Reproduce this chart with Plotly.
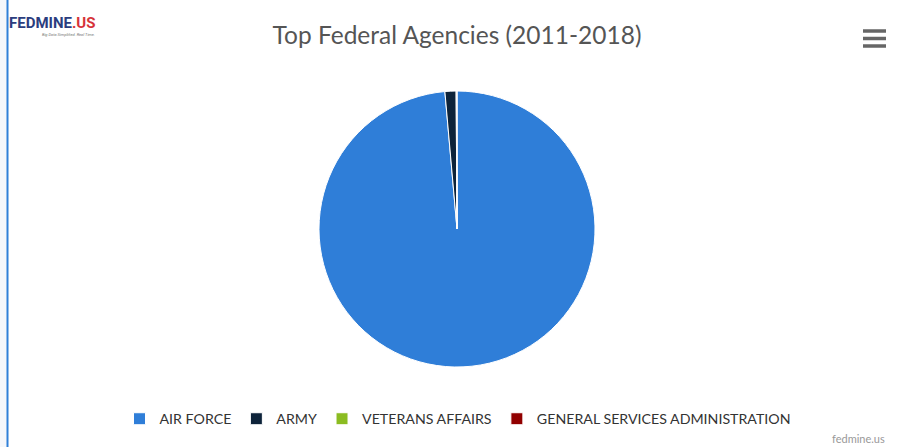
import plotly.graph_objects as go

W, H = 904, 447

agencies = ["AIR FORCE", "ARMY", "VETERANS AFFAIRS", "GENERAL SERVICES ADMINISTRATION"]
obligations = [98.6, 1.3, 0.06, 0.04]
colors = ["#2f7ed8", "#0d233a", "#8bbc21", "#910000"]

title_text = "Top Federal Agencies (2011-2018)"
credit_text = "fedmine.us"

def px(x):
    return x / W

def py(y):
    return 1 - y / H

cx, cy, r = 457, 229, 138

fig = go.Figure(go.Pie(
    labels=agencies,
    values=obligations,
    sort=False,
    direction="clockwise",
    rotation=0,
    textinfo="none",
    marker=dict(colors=colors, line=dict(color="white", width=1)),
    domain=dict(x=[px(cx - r), px(cx + r)], y=[py(cy + r), py(cy - r)]),
    hoverinfo="label+percent",
))

shapes = [
    dict(type="rect", xref="paper", yref="paper", x0=0, x1=px(7), y0=0, y1=1,
         fillcolor="#f5f7fb", line=dict(width=0), layer="below"),
    dict(type="line", xref="paper", yref="paper", x0=px(7.5), x1=px(7.5), y0=0, y1=1,
         line=dict(color="#3080d8", width=2)),
]
for yy in [31, 38.5, 46]:
    shapes.append(dict(type="line", xref="paper", yref="paper",
                       x0=px(863), x1=px(886), y0=py(yy), y1=py(yy),
                       line=dict(color="#666666", width=3.5)))

annotations = [
    dict(text="<b><span style='color:#2b3d7e'>FEDMINE</span><span style='color:#d6323a'>.US</span></b>",
         x=px(7), y=py(23), xref="paper", yref="paper", xanchor="left", yanchor="middle",
         showarrow=False, font=dict(family="Roboto", size=15)),
    dict(text="<i>Big Data Simplified. Real Time.</i>",
         x=px(40), y=py(35), xref="paper", yref="paper", xanchor="left", yanchor="middle",
         showarrow=False, font=dict(family="Roboto", size=4, color="#777")),
    dict(text=credit_text, x=px(858), y=py(447), xref="paper", yref="paper",
         xanchor="center", yanchor="bottom", showarrow=False,
         font=dict(family="Lato, Open Sans", size=11, color="#999999")),
]

fig.update_layout(
    width=W, height=H, autosize=False,
    margin=dict(l=0, r=0, t=0, b=0),
    paper_bgcolor="white", plot_bgcolor="white",
    title=dict(text=title_text, x=px(457), xanchor="center", y=py(35), yanchor="middle",
               font=dict(family="Lato, Open Sans", size=24.5, color="#555555")),
    legend=dict(orientation="h", x=px(458), xanchor="center", y=py(419), yanchor="middle",
                font=dict(family="Lato", size=14.2, color="#333333"),
                traceorder="normal"),
    shapes=shapes,
    annotations=annotations,
)

fig.write_html("out.html", config={"displayModeBar": False},
               post_script="document.body.style.margin='0';document.body.style.overflow='hidden';")
